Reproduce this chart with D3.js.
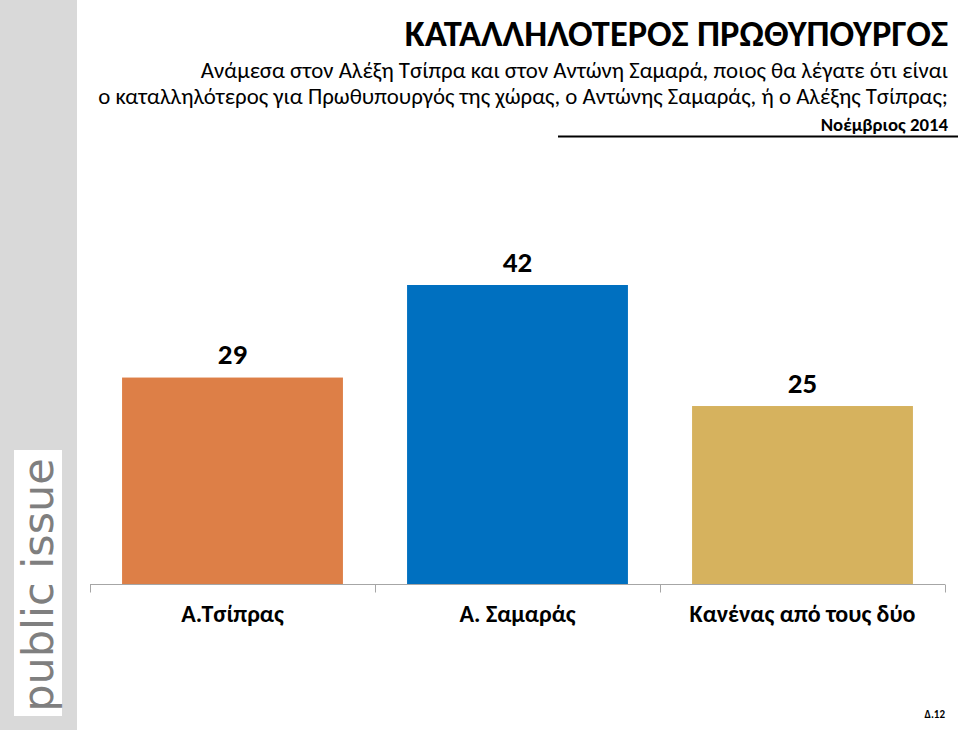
<!DOCTYPE html>
<html>
<head>
<meta charset="utf-8">
<script src="https://cdn.jsdelivr.net/npm/d3@7"></script>
<style>
	body { margin: 0; background: #fff; }
	svg { display: block; }
</style>
</head>
<body>
<div id="chart"></div>
<script>
const categories = ['Α.Τσίπρας', 'Α. Σαμαράς', 'Κανένας από τους δύο'];
const values = [29, 42, 25];
const colors = ['#dd7f47', '#0070c0', '#d6b25e'];
const titleText = 'ΚΑΤΑΛΛΗΛΟΤΕΡΟΣ ΠΡΩΘΥΠΟΥΡΓΟΣ';
const subtitleLines = [
	'Ανάμεσα στον Αλέξη Τσίπρα και στον Αντώνη Σαμαρά, ποιος θα λέγατε ότι είναι',
	'ο καταλληλότερος για Πρωθυπουργός της χώρας, ο Αντώνης Σαμαράς, ή ο Αλέξης Τσίπρας;'
];
const dateText = 'Νοέμβριος 2014';
const pageText = 'Δ.12';

const width = 960, height = 730;
const font = "Carlito, Calibri, Lato, 'Open Sans', sans-serif";

const svg = d3.select('#chart')
	.append('svg')
	.attr('width', width)
	.attr('height', height)
	.style('font-family', font);

// side bar with logo
svg.append('rect')
	.attr('x', 0).attr('y', 0)
	.attr('width', 77).attr('height', height)
	.attr('fill', '#d9d9d9');

svg.append('rect')
	.attr('x', 14).attr('y', 450)
	.attr('width', 48).attr('height', 266)
	.attr('fill', '#fff');

svg.append('text')
	.attr('transform', 'translate(53, 585) rotate(-90)')
	.attr('text-anchor', 'middle')
	.attr('fill', '#7f7f7f')
	.style('font-family', "'DejaVu Sans', sans-serif")
	.style('font-size', '43px')
	.text('public issue');

// titles
svg.append('text')
	.attr('x', 948).attr('y', 46)
	.attr('text-anchor', 'end')
	.style('font-size', '36.4px')
	.style('font-weight', 'bold')
	.text(titleText);

svg.selectAll('.sub')
	.data(subtitleLines)
	.enter()
	.append('text')
	.attr('class', 'sub')
	.attr('x', 948)
	.attr('y', (d, i) => 78 + i * 26)
	.attr('text-anchor', 'end')
	.style('font-size', '22.85px')
	.text(d => d);

svg.append('text')
	.attr('x', 948).attr('y', 131)
	.attr('text-anchor', 'end')
	.style('font-size', '18.8px')
	.style('font-weight', 'bold')
	.text(dateText);

svg.append('line')
	.attr('x1', 558).attr('x2', 958)
	.attr('y1', 136.5).attr('y2', 136.5)
	.attr('stroke', '#000')
	.attr('stroke-width', 2);

// chart
const xScale = d3.scaleBand()
	.domain(categories)
	.range([90, 945])
	.paddingInner(0.225)
	.paddingOuter(0.1125);

const yScale = d3.scaleLinear()
	.domain([0, 42])
	.range([584, 285]);

svg.selectAll('.bar')
	.data(values)
	.enter()
	.append('rect')
	.attr('class', 'bar')
	.attr('x', (d, i) => xScale(categories[i]))
	.attr('y', d => yScale(d))
	.attr('width', xScale.bandwidth())
	.attr('height', d => yScale(0) - yScale(d))
	.attr('fill', (d, i) => colors[i]);

svg.selectAll('.value')
	.data(values)
	.enter()
	.append('text')
	.attr('class', 'value')
	.attr('x', (d, i) => xScale(categories[i]) + xScale.bandwidth() / 2)
	.attr('y', d => yScale(d) - 13.5)
	.attr('text-anchor', 'middle')
	.style('font-size', '29px')
	.style('font-weight', 'bold')
	.text(d => d);

// axis
const axisBand = d3.scaleBand().domain(categories).range([90, 945]);
const axis = svg.append('g').attr('transform', 'translate(0, 584.5)');
axis.append('line')
	.attr('x1', 90).attr('x2', 945)
	.attr('stroke', '#a6a6a6');
axis.selectAll('.tick')
	.data([...categories.map(c => axisBand(c)), 945])
	.enter()
	.append('line')
	.attr('x1', d => d + 0.5).attr('x2', d => d + 0.5)
	.attr('y1', 0).attr('y2', 8)
	.attr('stroke', '#a6a6a6');

svg.selectAll('.cat')
	.data(categories)
	.enter()
	.append('text')
	.attr('class', 'cat')
	.attr('x', d => xScale(d) + xScale.bandwidth() / 2)
	.attr('y', 622)
	.attr('text-anchor', 'middle')
	.style('font-size', '24px')
	.style('font-weight', 'bold')
	.text(d => d);

svg.append('text')
	.attr('x', 945).attr('y', 718)
	.attr('text-anchor', 'end')
	.style('font-size', '11px')
	.style('font-weight', 'bold')
	.text(pageText);
</script>
</body>
</html>
